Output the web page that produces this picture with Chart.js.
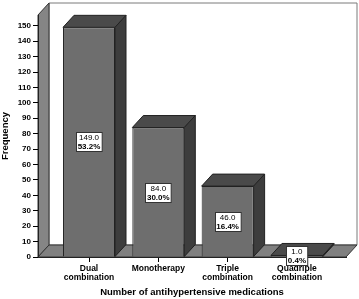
<!DOCTYPE html>
<html>
<head>
<meta charset="utf-8">
<script src="https://cdn.jsdelivr.net/npm/chart.js@4/dist/chart.umd.min.js"></script>
<style>
  html, body { margin: 0; padding: 0; background: #fff; }
  #wrap { width: 359px; height: 299px; position: relative; }
</style>
</head>
<body>
<div id="wrap"><canvas id="freqChart"></canvas></div>
<script>
// Data
const categories = [['Dual', 'combination'], 'Monotherapy', ['Triple', 'combination'], ['Quadriple', 'combination']];
const frequencies = [149, 84, 46, 1];
const percents = [53.2, 30.0, 16.4, 0.4];
const yTickStep = 10;
const yTickMax = 150;

const FONT = "'Liberation Sans', Arial, sans-serif";
const DEPTH_X = 11;
const DEPTH_Y = 12;

function poly(ctx, pts, fill, stroke) {
    ctx.beginPath();
    ctx.moveTo(pts[0][0], pts[0][1]);
    for (let i = 1; i < pts.length; i++) ctx.lineTo(pts[i][0], pts[i][1]);
    ctx.closePath();
    ctx.fillStyle = fill;
    ctx.fill();
    if (stroke) {
        ctx.strokeStyle = stroke;
        ctx.lineWidth = 1;
        ctx.stroke();
    }
}

// walls, floor and the 3d faces of the bars
const box3d = {
    id: 'box3d',
    beforeDraw(chart) {
        const ctx = chart.ctx;
        const { left, right, top, bottom } = chart.chartArea;
        ctx.save();
        // back wall
        poly(ctx, [[left + DEPTH_X, top - DEPTH_Y], [right + DEPTH_X, top - DEPTH_Y],
                   [right + DEPTH_X, bottom - DEPTH_Y], [left + DEPTH_X, bottom - DEPTH_Y]], '#ffffff', '#7a7a7a');
        // left wall
        poly(ctx, [[left, bottom], [left, top], [left + DEPTH_X, top - DEPTH_Y],
                   [left + DEPTH_X, bottom - DEPTH_Y]], '#858585', '#333');
        // floor
        poly(ctx, [[left, bottom], [right, bottom], [right + DEPTH_X, bottom - DEPTH_Y],
                   [left + DEPTH_X, bottom - DEPTH_Y]], '#808080', '#333');
        ctx.restore();
    },
    afterDatasetsDraw(chart) {
        const ctx = chart.ctx;
        const meta = chart.getDatasetMeta(0);
        ctx.save();
        meta.data.forEach((bar, i) => {
            const p = bar.getProps(['x', 'y', 'base', 'width'], true);
            const l = p.x - p.width / 2;
            const r = p.x + p.width / 2;
            // top face
            poly(ctx, [[l, p.y], [r, p.y], [r + DEPTH_X, p.y - DEPTH_Y], [l + DEPTH_X, p.y - DEPTH_Y]], '#4a4a4a', '#222');
            // side face
            poly(ctx, [[r, p.y], [r, p.base], [r + DEPTH_X, p.base - DEPTH_Y], [r + DEPTH_X, p.y - DEPTH_Y]], '#3d3d3d', '#222');

            // value box
            const line1 = frequencies[i].toFixed(1);
            const line2 = percents[i].toFixed(1) + '%';
            ctx.font = '8px ' + FONT;
            const w1 = ctx.measureText(line1).width;
            ctx.font = 'bold 8px ' + FONT;
            const w2 = ctx.measureText(line2).width;
            const bw = Math.max(w1, w2) + 3;
            const bh = 19;
            const cy = (p.y + p.base) / 2;
            const bx = Math.round(p.x - bw / 2) + 0.5;
            const by = Math.round(cy - bh / 2) + 0.5;
            ctx.fillStyle = '#fff';
            ctx.fillRect(bx, by, bw, bh);
            ctx.strokeStyle = '#333';
            ctx.lineWidth = 1;
            ctx.strokeRect(bx, by, bw, bh);
            ctx.fillStyle = '#000';
            ctx.textAlign = 'center';
            ctx.textBaseline = 'middle';
            ctx.font = '8px ' + FONT;
            ctx.fillText(line1, p.x, by + 5);
            ctx.font = 'bold 8px ' + FONT;
            ctx.fillText(line2, p.x, by + 14);
        });
        ctx.restore();
    }
};

const ctx = document.getElementById('freqChart').getContext('2d');
new Chart(ctx, {
    type: 'bar',
    data: {
        datasets: [{
            data: frequencies.map((v, i) => ({ x: i, y: v })),
            backgroundColor: '#6e6e6e',
            borderColor: '#222',
            borderWidth: 1,
            categoryPercentage: 1,
            barPercentage: 0.75
        }]
    },
    options: {
        responsive: true,
        maintainAspectRatio: false,
        animation: false,
        layout: { padding: { top: 15, right: 13, left: 0, bottom: 0 } },
        plugins: {
            legend: { display: false },
            tooltip: { enabled: false }
        },
        scales: {
            x: {
                type: 'linear',
                offset: false,
                min: -0.736,
                max: 3.708,
                afterFit: (scale) => { scale.height = 42; },
                ticks: {
                    stepSize: 1,
                    includeBounds: false,
                    autoSkip: false,
                    maxRotation: 0,
                    padding: 2,
                    color: '#000',
                    font: { family: FONT, size: 8.5, weight: 'bold', lineHeight: 1.1 },
                    callback: (value) => categories[value]
                },
                grid: { offset: false, drawOnChartArea: false, tickLength: 5, color: '#000' },
                border: { color: '#222' },
                title: {
                    display: true,
                    text: 'Number of antihypertensive medications',
                    color: '#000',
                    font: { family: FONT, size: 9.5, weight: 'bold' },
                    padding: { top: 0, bottom: 1 }
                }
            },
            y: {
                min: 0,
                max: 157,
                afterFit: (scale) => { scale.width = 38; },
                ticks: {
                    stepSize: yTickStep,
                    includeBounds: false,
                    padding: 2,
                    color: '#000',
                    font: { family: FONT, size: 8, weight: 'bold' },
                    callback: (value) => (value <= yTickMax ? value : '')
                },
                grid: { drawOnChartArea: false, tickLength: 5, color: '#000' },
                border: { color: '#222' },
                title: {
                    display: true,
                    text: 'Frequency',
                    color: '#000',
                    font: { family: FONT, size: 9.5, weight: 'bold' },
                    padding: { top: 0, bottom: 4 }
                }
            }
        }
    },
    plugins: [box3d]
});
</script>
</body>
</html>
